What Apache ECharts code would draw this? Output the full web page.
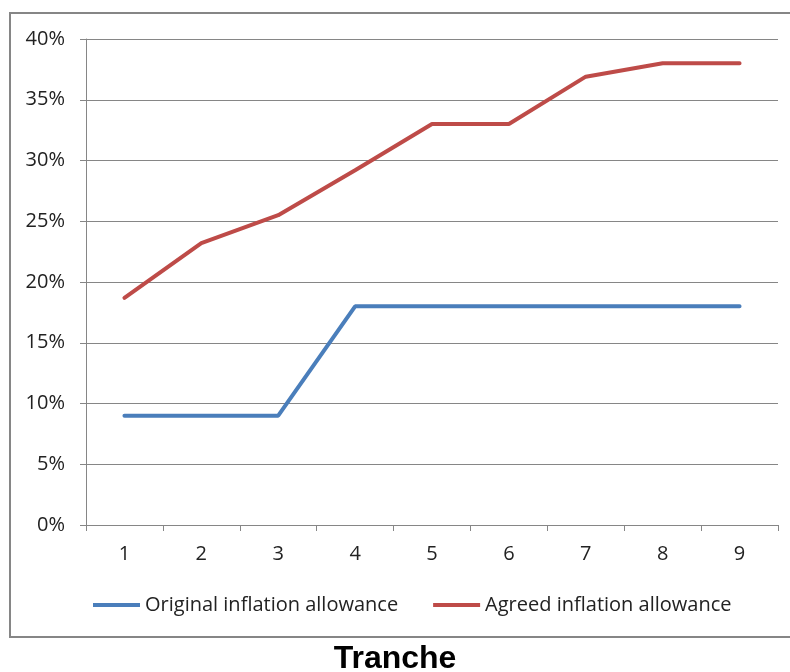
<!DOCTYPE html>
<html><head><meta charset="utf-8">
<script src="https://cdn.jsdelivr.net/npm/echarts@6/dist/echarts.min.js"></script>
<style>html,body{margin:0;padding:0;background:#fff}#c{width:790px;height:672px}</style>
</head><body><div id="c"></div>
<script>
const categories = ['1','2','3','4','5','6','7','8','9'];
const originalAllowance = [0.09,0.09,0.09,0.18,0.18,0.18,0.18,0.18,0.18];
const agreedAllowance = [0.187,0.232,0.255,0.292,0.330,0.330,0.369,0.380,0.380];
const seriesNames = ['Original inflation allowance','Agreed inflation allowance'];
const axisTitle = 'Tranche';

const FONT = 'Open Sans';
const chart = echarts.init(document.getElementById('c'));
chart.setOption({
  animation:false,
  backgroundColor:'#fff',
  graphic:[{type:'rect',shape:{x:10,y:13,width:800,height:624},style:{fill:'none',stroke:'#868686',lineWidth:2},silent:true}],
  title:{text:axisTitle,left:'center',top:638,textStyle:{fontFamily:'Liberation Sans',fontWeight:'bold',fontSize:32,color:'#000'}},
  grid:{left:86,right:12,top:39,bottom:147},
  legend:{left:88,top:590,itemWidth:47,itemHeight:4,itemGap:35,icon:'rect',
    textStyle:{fontFamily:FONT,fontSize:20,color:'#222'},
    data:seriesNames},
  xAxis:{type:'category',data:categories,boundaryGap:true,
    axisLine:{lineStyle:{color:'#868686',width:1}},
    axisTick:{show:true,length:6,alignWithLabel:false,lineStyle:{color:'#868686'}},
    axisLabel:{fontFamily:FONT,fontSize:20,color:'#222',margin:19}},
  yAxis:{type:'value',min:0,max:0.4,interval:0.05,
    axisLine:{show:true,lineStyle:{color:'#868686'}},
    axisTick:{show:true,length:6,lineStyle:{color:'#868686'}},
    splitLine:{lineStyle:{color:'#868686',width:1}},
    axisLabel:{fontFamily:FONT,fontSize:20,color:'#222',margin:21,formatter:v=>Math.round(v*100)+'%'}},
  series:[
    {name:seriesNames[0],type:'line',data:originalAllowance,symbol:'none',lineStyle:{color:'#4a7ebb',width:4,cap:'round'},itemStyle:{color:'#4a7ebb'}},
    {name:seriesNames[1],type:'line',data:agreedAllowance,symbol:'none',lineStyle:{color:'#be4b48',width:4,cap:'round'},itemStyle:{color:'#be4b48'}}
  ]
});
</script></body></html>
